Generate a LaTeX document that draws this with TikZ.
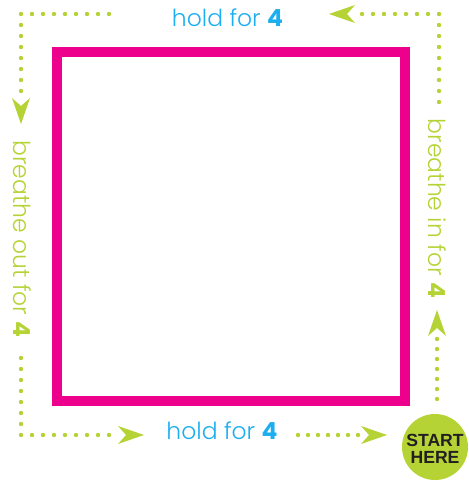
\documentclass[tikz,border=0pt]{standalone}
\usepackage{fontspec}
\setmainfont{Poppins Light}[BoldFont=Poppins Bold]
\newfontfamily\startfont{Liberation Sans}[BoldFont=Liberation Sans Bold]
\definecolor{lime}{HTML}{B5D335}
\definecolor{hotpink}{HTML}{EC008C}
\definecolor{skyblue}{HTML}{1DAEEF}
\definecolor{ink}{HTML}{231F20}
\tikzset{
  dot/.style={fill=lime, draw=none},
  ahead/.pic={\fill[lime] (0,0) -- (-26,9) -- (-18,0) -- (-26,-9) -- cycle;},
  sidelabel/.style={text=lime, font=\fontsize{17.6}{19}\selectfont, inner sep=0pt},
  holdlabel/.style={text=skyblue, font=\fontsize{17.6}{19}\selectfont, inner sep=0pt},
}
\begin{document}
\begin{tikzpicture}[x=0.75pt,y=-0.75pt]
\useasboundingbox (0,0) rectangle (468,481);
% square
\coordinate (sqa) at (57,52);
\coordinate (sqb) at (405,401);
\draw[hotpink, line width=7.9pt] (sqa) rectangle (sqb);
% dots
\foreach \k in {0,...,8} \fill[dot] (21+11*\k,14) circle (2.2);
\foreach \k in {1,...,7} \fill[dot] (21,14+11*\k) circle (2.2);
\foreach \k in {0,...,7} \fill[dot] (439-11*\k,14) circle (2.2);
\foreach \k in {1,...,8} \fill[dot] (439,14+11*\k) circle (2.2);
\foreach \k in {0,...,6} \fill[dot] (437,339+10*\k) circle (2.2);
\foreach \k in {0,...,8} \fill[dot] (21+11*\k,435) circle (2.2);
\foreach \k in {1,...,7} \fill[dot] (21,435-11*\k) circle (2.2);
\foreach \k in {0,...,6} \fill[dot] (298+10*\k,435) circle (2.2);
% arrow heads
\coordinate (tipdown) at (21,124);
\coordinate (tipleft) at (329,14);
\coordinate (tipright1) at (144,435);
\coordinate (tipright2) at (387,435);
\coordinate (tipup) at (437,310);
\pic[rotate=-90] at (tipdown) {ahead};
\pic[rotate=180] at (tipleft) {ahead};
\pic at (tipright1) {ahead};
\pic at (tipright2) {ahead};
\pic[rotate=90] at (tipup) {ahead};
% labels
\node[holdlabel, anchor=base] (holdtop) at (227.5,26.7) {hold for \textbf{4}};
\node[holdlabel, anchor=base] (holdbot) at (222,439.3) {hold for \textbf{4}};
\node[sidelabel, rotate=-90] (bout) at (22.5,239) {breathe out for \textbf{4}};
\node[sidelabel, rotate=-90] (bin) at (437,208.5) {breathe in for \textbf{4}};
% start
\node[circle, fill=lime, minimum size=66*0.75pt, inner sep=0pt] (start) at (435,447) {};
\node[text=ink, font=\startfont\bfseries\fontsize{13.2}{12.6}\selectfont, align=center, inner sep=0pt] (starttxt) at (435,449) {START\\HERE};
\end{tikzpicture}
\end{document}
